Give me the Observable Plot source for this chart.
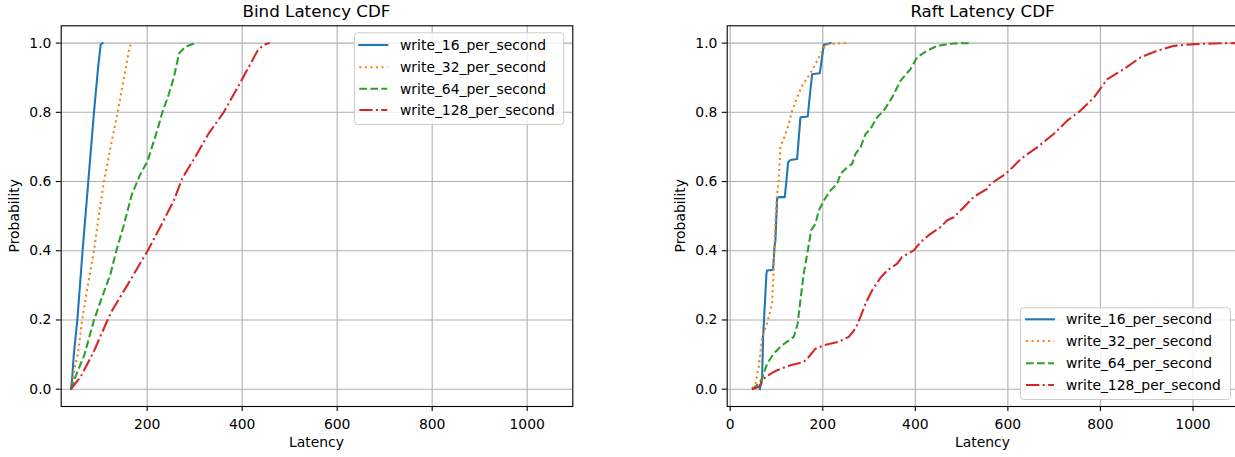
<!DOCTYPE html>
<html>
<head>
<meta charset="utf-8">
<script src="https://cdn.jsdelivr.net/npm/d3@7"></script>
<script src="https://cdn.jsdelivr.net/npm/@observablehq/plot@0.6"></script>
<style>
  html, body { margin: 0; padding: 0; background: white; }
  #root { position: relative; width: 1235px; height: 457px; overflow: hidden; background: white; font-family: "DejaVu Sans", sans-serif; }
  .panel { position: absolute; top: 0; }
  #overlay { position: absolute; left: 0; top: 0; pointer-events: none; }
</style>
</head>
<body>
<div id="root">
  <div class="panel" id="left" style="left:0px;width:617px;"></div>
  <div class="panel" id="right" style="left:617px;width:625px;"></div>
</div>
<script>
// ---- Data (latency, cumulative probability) ----
const seriesNames = ["write_16_per_second", "write_32_per_second", "write_64_per_second", "write_128_per_second"];
const seriesColors = ["#1f77b4", "#ff7f0e", "#2ca02c", "#d62728"];
const seriesDashes = [null, "2.08,3.44", "7.7,3.33", "13.3,3.33,2.08,3.33"];

const bind16 = [[39.5,0],[42,0.03],[45.5,0.1],[53,0.2],[64,0.4],[76,0.6],[88,0.8],[96,0.92],[100,0.97],[102,0.995],[106,1.0]];
const bind32 = [[41,0],[44,0.03],[47,0.06],[54,0.1],[63,0.2],[75,0.3],[88,0.4],[98,0.5],[109,0.6],[123,0.7],[138,0.8],[151,0.9],[158,0.95],[163,0.99],[168,1.0]];
const bind64 = [[39.5,0],[49,0.036],[68,0.1],[88,0.2],[106,0.27],[123,0.334],[135,0.4],[150,0.47],[168,0.564],[186,0.622],[201,0.66],[221,0.747],[232,0.8],[245,0.85],[256,0.9],[267,0.97],[281,0.99],[302,1.0]];
const bind128 = [[39.5,0],[60,0.036],[88,0.11],[123,0.22],[158,0.3],[201,0.4],[228,0.47],[256,0.545],[274,0.61],[305,0.68],[330,0.74],[361,0.8],[400,0.896],[432,0.977],[445,0.995],[458,1.0]];

const raft16 = [[63.9,0],[68.9,0.031],[71.1,0.151],[78.3,0.334],[79.7,0.343],[92.7,0.345],[95.6,0.41],[97.7,0.43],[101.3,0.55],[104.9,0.555],[117.9,0.555],[121.5,0.603],[125.1,0.656],[130.2,0.662],[144.6,0.665],[151.8,0.786],[167.6,0.788],[170.5,0.829],[177.0,0.91],[193.6,0.913],[202.2,0.995],[208.0,0.997],[216.7,1.0]];
const raft32 = [[47.3,0.002],[54.5,0.016],[61.7,0.064],[68.9,0.151],[79.7,0.19],[90.5,0.247],[94.1,0.353],[97.7,0.487],[101.3,0.564],[104.9,0.603],[108.5,0.7],[119.3,0.737],[126.6,0.766],[133.8,0.805],[144.6,0.843],[155.4,0.877],[169.8,0.906],[184.2,0.939],[195.0,0.968],[205.8,0.995],[216.7,0.998],[256.3,1.0]];
const raft64 = [[47.3,0],[61.7,0.016],[68.9,0.031],[79.7,0.074],[94.1,0.103],[112.1,0.127],[137.3,0.151],[145.9,0.19],[151.7,0.257],[158.9,0.334],[167.6,0.40],[174.8,0.459],[184.2,0.478],[191.4,0.516],[202.2,0.545],[216.6,0.574],[231.0,0.593],[238.3,0.622],[252.7,0.641],[263.5,0.651],[270.7,0.68],[281.5,0.699],[292.3,0.737],[303.1,0.752],[317.5,0.786],[331.9,0.805],[349.9,0.843],[367.9,0.891],[389.5,0.925],[403.9,0.959],[425.5,0.978],[447.1,0.992],[483.1,0.999],[522.7,1.0]];
const raft128 = [[47.3,0],[61.7,0.007],[68.9,0.021],[76.1,0.036],[101.3,0.055],[130.1,0.069],[158.9,0.079],[169.7,0.093],[184.2,0.117],[202.2,0.127],[234.6,0.137],[256.2,0.151],[270.7,0.175],[281.5,0.209],[292.3,0.247],[306.7,0.286],[324.7,0.322],[339.1,0.343],[360.8,0.363],[371.5,0.382],[396.8,0.401],[411.2,0.425],[432.8,0.449],[454.4,0.468],[468.8,0.488],[483.2,0.497],[504.8,0.526],[526.4,0.556],[555.2,0.579],[562.5,0.593],[594.8,0.622],[605.6,0.635],[627.4,0.665],[663.4,0.699],[699.5,0.738],[728.3,0.776],[757.1,0.805],[786.0,0.843],[814.8,0.896],[850.8,0.925],[886.9,0.959],[922.9,0.978],[958.9,0.992],[1002.1,0.997],[1045.3,0.999],[1092,1.0]];

const leftTicksX = [200, 400, 600, 800, 1000];
const rightTicksX = [0, 200, 400, 600, 800, 1000];
const ticksY = [0, 0.2, 0.4, 0.6, 0.8, 1.0];
const titles = ["Bind Latency CDF", "Raft Latency CDF"];
const xLabel = "Latency";
const yLabel = "Probability";

// ---- Drawing ----
const FS = 13.9;
function panel(series, opts) {
  const marks = [
    Plot.gridX(opts.xticks, {stroke: "#b0b0b0", strokeOpacity: 1, strokeWidth: 1.1}),
    Plot.gridY(ticksY, {stroke: "#b0b0b0", strokeOpacity: 1, strokeWidth: 1.1}),
  ];
  series.forEach((s, i) => {
    marks.push(Plot.line(s, {
      x: d => d[0], y: d => d[1],
      stroke: seriesColors[i], strokeWidth: 2.08,
      strokeDasharray: seriesDashes[i] || undefined,
      strokeLinejoin: "round",
      strokeLinecap: seriesDashes[i] ? "butt" : "square",
      clip: true
    }));
  });
  marks.push(
    Plot.axisX({ticks: opts.xticks, tickSize: 4.9, tickPadding: 7.5, tickFormat: d => String(d), label: null, fontSize: FS, strokeWidth: 1.1}),
    Plot.axisY({ticks: ticksY, tickSize: 4.9, tickPadding: 4.9, tickFormat: d3.format(".1f"), label: null, fontSize: FS, strokeWidth: 1.1}),
    Plot.frame({stroke: "black", strokeWidth: 1.1})
  );
  return Plot.plot({
    width: opts.width, height: 457,
    marginLeft: opts.marginLeft, marginRight: opts.marginRight,
    marginTop: 25.3, marginBottom: 51,
    x: {domain: opts.xdomain, label: null},
    y: {domain: [-0.05, 1.05], label: null},
    style: {fontFamily: "DejaVu Sans", fontSize: FS + "px", color: "black", background: "white", overflow: "visible"},
    marks
  });
}

document.getElementById("left").appendChild(panel([bind16, bind32, bind64, bind128], {
  width: 617, marginLeft: 60.7, marginRight: 44.7, xdomain: [19, 1096], xticks: leftTicksX
}));
document.getElementById("right").appendChild(panel([raft16, raft32, raft64, raft128], {
  width: 625, marginLeft: 109.7, marginRight: 3.7, xdomain: [-6.5, 1099], xticks: rightTicksX
}));

// ---- Overlay: titles, axis labels, legends ----
const ov = d3.select("#root").append("svg").attr("id", "overlay")
  .attr("width", 1235).attr("height", 457)
  .style("font-family", "DejaVu Sans");

const panelsGeom = [
  {cx: 316.5, ylab: 18.5, legend: {x: 354, y: 32.3, w: 209.3, h: 91.7, rows: [12.7, 35, 56.5, 77.7], sx: 4.3}},
  {cx: 982.5, ylab: 684.5, legend: {x: 1020, y: 307.3, w: 210, h: 91.7, rows: [12.0, 33.7, 56.0, 77.7], sx: 5}}
];
panelsGeom.forEach((g, k) => {
  ov.append("text").attr("x", g.cx).attr("y", 17.3).attr("text-anchor", "middle")
    .attr("font-size", 16.7).attr("fill", "black").text(titles[k]);
  ov.append("text").attr("x", g.cx).attr("y", 447).attr("text-anchor", "middle")
    .attr("font-size", FS).attr("fill", "black").text(xLabel);
  ov.append("text").attr("transform", `translate(${g.ylab},215.7) rotate(-90)`).attr("text-anchor", "middle")
    .attr("font-size", FS).attr("fill", "black").text(yLabel);
  const L = g.legend;
  const lg = ov.append("g").attr("transform", `translate(${L.x},${L.y})`);
  lg.append("rect").attr("x", 0.5).attr("y", 0.5).attr("width", L.w).attr("height", L.h)
    .attr("rx", 3).attr("fill", "white").attr("fill-opacity", 0.8).attr("stroke", "#cccccc").attr("stroke-width", 1);
  seriesNames.forEach((name, i) => {
    const cy = L.rows[i];
    lg.append("line").attr("x1", L.sx + 1).attr("x2", L.sx + 29).attr("y1", cy).attr("y2", cy)
      .attr("stroke", seriesColors[i]).attr("stroke-width", 2.08)
      .attr("stroke-dasharray", seriesDashes[i])
      .attr("stroke-linecap", seriesDashes[i] ? "butt" : "square");
    lg.append("text").attr("x", 46).attr("y", cy).attr("dy", "0.35em")
      .attr("font-size", FS).attr("fill", "black").text(name);
  });
});
</script>
</body>
</html>
